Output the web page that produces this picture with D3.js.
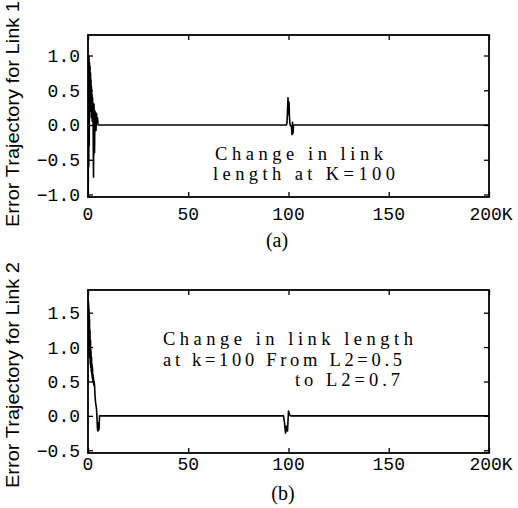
<!DOCTYPE html>
<html><head><meta charset="utf-8">
<script src="https://cdn.jsdelivr.net/npm/d3@7"></script>
<style>body{margin:0;background:#fff}</style>
</head><body>
<script>
// ---------- data ----------
const link1K = [0,0.125,0.25,0.375,0.5,0.625,0.75,0.875,1.0,1.125,1.25,1.375,1.5,1.625,1.75,1.875,2.0,2.125,2.25,2.5,2.75,3.0,3.25,3.5,3.75,4.0,4.25,4.5,4.75,5.0,5.5,
  99.0,99.25,99.5,99.75,100.0,100.25,100.5,100.75,101.0,101.5,101.75,102.0,102.25,102.5,103.0,200];
const link1E = [0.95,-0.95,1.0,-0.6,0.98,-0.3,0.9,0.1,0.85,0.2,0.75,0.3,0.65,0.2,0.55,0.1,0.45,0.05,0.4,0.2,-0.75,0.3,-0.4,0.2,0.12,-0.08,0.17,0.05,0.1,0.0,0.0,
  0.0,0.03,0.2,0.39,0.15,0.33,0.1,0.0,0.0,-0.03,-0.14,0.04,-0.12,0.0,0.0,0.0];
const link2K = [0,0.0625,0.125,0.1875,0.25,0.3125,0.375,0.4375,0.5,0.5625,0.625,0.6875,0.75,0.875,1.0,1.125,1.25,1.375,1.5,1.625,1.75,1.875,2.0,2.125,2.25,2.375,2.5,2.625,2.75,2.875,3.0,
  3.25,3.5,3.75,4.0,4.25,4.5,4.75,5.0,5.25,5.5,5.75,6.0,6.5,
  97.5,98.0,98.5,99.0,99.5,100.0,100.5,101.0,200];
const link2E = [1.7,1.0,1.68,0.98,1.65,0.95,1.6,0.92,1.55,0.9,1.5,0.88,1.4,0.85,1.25,0.75,1.1,0.7,0.95,0.65,0.85,0.6,0.75,0.55,0.7,0.5,0.6,0.48,0.55,0.45,0.5,
  0.45,0.3,0.2,0.15,0.1,-0.05,-0.2,-0.22,-0.1,-0.2,0.0,0.0,0.0,
  0.0,-0.1,-0.25,-0.15,-0.22,0.07,0.02,0.0,0.0];
const xTicks = [0,50,100,150,200];
const xTickLabels = ["0","50","100","150","200K"];
const yTicks1 = [-1.0,-0.5,0.0,0.5,1.0];
const yTicks2 = [-0.5,0.0,0.5,1.0,1.5];
const yTitles = ["Error Trajectory for Link 1","Error Trajectory for Link 2"];
const captions = ["(a)","(b)"];
const notes1 = ["Change in link","length at K=100"];
const notes2 = ["Change in link length","at k=100 From L2=0.5","to L2=0.7"];

const W=518,H=508;
const svg=d3.select("body").append("svg").attr("width",W).attr("height",H);

function panel(cfg){
  const {top,bottom,yDom,yTicks,K,E,title,titleY,caption,capX,capY,labelY,id}=cfg;
  const x=d3.scaleLinear().domain([0,200]).range([88,489]);
  const y=d3.scaleLinear().domain(yDom).range([bottom,top]);
  const g=svg.append("g");
  g.append("clipPath").attr("id",id).append("rect")
    .attr("x",88).attr("y",top).attr("width",401).attr("height",bottom-top);
  const line=d3.line().x((d,i)=>x(K[i])).y(d=>y(d));
  g.append("path").datum(E).attr("d",line).attr("fill","none")
    .attr("stroke","#000").attr("stroke-width",1.6).attr("stroke-linejoin","round")
    .attr("clip-path",`url(#${id})`);
  const tl=5;
  g.append("g").attr("transform",`translate(0,${bottom})`)
    .call(d3.axisBottom(x).tickValues(xTicks).tickSizeInner(-tl).tickSizeOuter(0).tickFormat(""))
    .call(s=>s.select(".domain").remove());
  g.append("g").attr("transform",`translate(0,${top})`)
    .call(d3.axisTop(x).tickValues(xTicks).tickSizeInner(-tl).tickSizeOuter(0).tickFormat(""))
    .call(s=>s.select(".domain").remove());
  g.append("g").attr("transform",`translate(88,0)`)
    .call(d3.axisLeft(y).tickValues(yTicks).tickSizeInner(-tl).tickSizeOuter(0).tickFormat(""))
    .call(s=>s.select(".domain").remove());
  g.append("g").attr("transform",`translate(489,0)`)
    .call(d3.axisRight(y).tickValues(yTicks).tickSizeInner(-tl).tickSizeOuter(0).tickFormat(""))
    .call(s=>s.select(".domain").remove());
  g.selectAll(".tick line").attr("stroke","#000").attr("stroke-width",1.3);
  g.append("rect").attr("x",88).attr("y",top).attr("width",401).attr("height",bottom-top)
    .attr("fill","none").attr("stroke","#000").attr("stroke-width",1.8);
  g.selectAll("text.yl").data(yTicks).enter().append("text")
    .attr("x",80).attr("y",d=>y(d)).attr("dy","0.36em").attr("text-anchor","end")
    .attr("font-family","Liberation Mono, monospace").attr("font-size",18)
    .text(d=>d3.format(".1f")(d).replace("-","\u2212"));
  g.selectAll("text.xl").data(xTicks).enter().append("text")
    .attr("x",(d,i)=>x(d)+(i===4?2:0)).attr("y",labelY).attr("text-anchor","middle")
    .attr("font-family","Liberation Mono, monospace").attr("font-size",18)
    .text((d,i)=>xTickLabels[i]);
  g.append("text").attr("transform",`translate(19,${titleY}) rotate(-90)`)
    .attr("text-anchor","middle").attr("font-family","Liberation Sans Narrow, Liberation Sans, sans-serif")
    .attr("font-size",19).attr("textLength",226).attr("lengthAdjust","spacingAndGlyphs")
    .text(title);
  g.append("text").attr("x",capX).attr("y",capY).attr("text-anchor","middle")
    .attr("font-family","Liberation Serif, serif").attr("font-size",20).text(caption);
  return g;
}

const g1=panel({id:"c1",top:35,bottom:197,yDom:[-1.036,1.295],yTicks:yTicks1,K:link1K,E:link1E,
  title:yTitles[0],titleY:114,caption:captions[0],capX:277,capY:247,labelY:220});
const g2=panel({id:"c2",top:290,bottom:453,yDom:[-0.54,1.83],yTicks:yTicks2,K:link2K,E:link2E,
  title:yTitles[1],titleY:375,caption:captions[1],capX:283,capY:500,labelY:470});

function notes(g,lines,xs,ys,lens){
  lines.forEach((t,i)=>{
    g.append("text").attr("x",xs[i]).attr("y",ys[i])
      .attr("font-family","Liberation Serif, serif").attr("font-size",18.5)
      .attr("textLength",lens[i]).attr("lengthAdjust","spacing").text(t);
  });
}
notes(g1,notes1,[215,213],[160,180],[168,182]);
notes(g2,notes2,[163,163,295],[345,366,386],[250,239,105]);
</script>
</body></html>
